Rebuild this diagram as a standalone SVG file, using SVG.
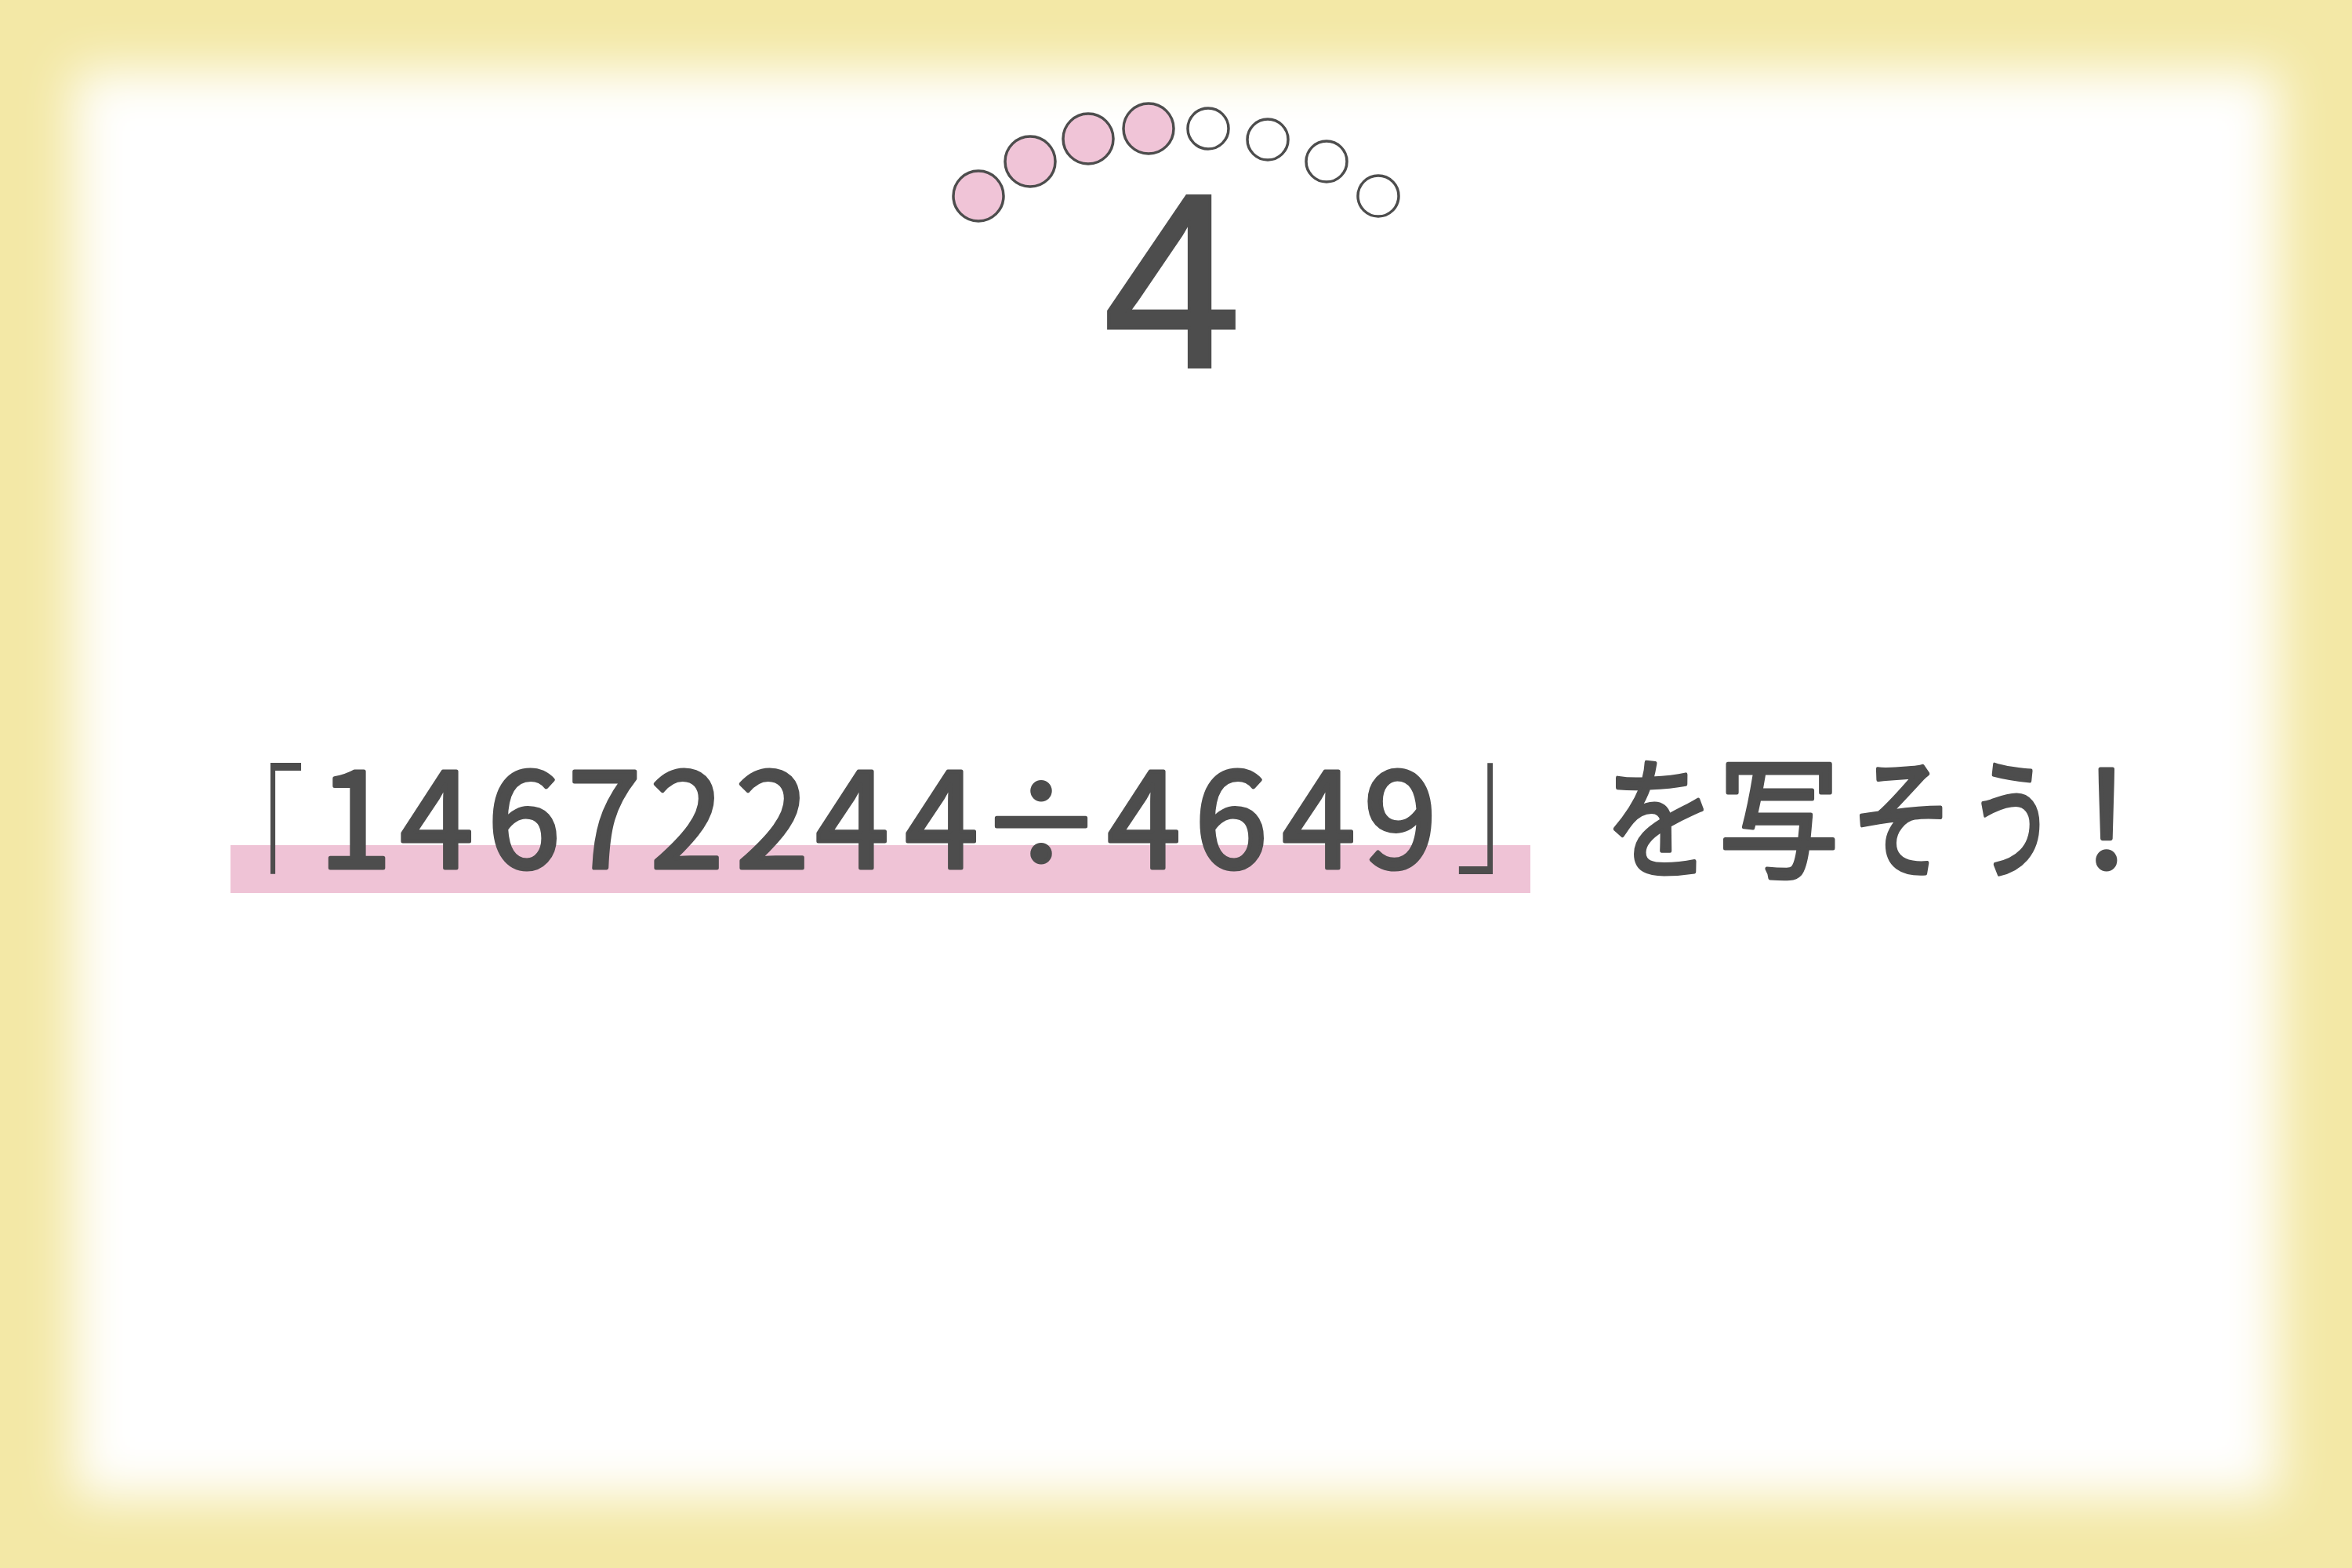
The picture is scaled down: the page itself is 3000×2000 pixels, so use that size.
<svg xmlns="http://www.w3.org/2000/svg" width="3000" height="2000" viewBox="0 0 3000 2000">
<defs>
<filter id="soft" filterUnits="userSpaceOnUse" x="0" y="0" width="3000" height="2000">
<feGaussianBlur stdDeviation="32"/>
</filter>
<style>
.dot{stroke:#4d4d4d;stroke-width:3.5}
.on{fill:#f0c4d7}
.off{fill:#ffffff}
.big{font-family:"Liberation Sans","DejaVu Sans",sans-serif;font-size:317px;fill:#4d4d4d;stroke:#4d4d4d;stroke-width:4}
.jp{font-family:"Noto Sans CJK JP","Noto Sans",sans-serif;font-size:168px;font-weight:400;fill:#4d4d4d;stroke:#4d4d4d;stroke-width:5;stroke-linejoin:round;stroke-linecap:round}
.br{font-family:"Noto Sans CJK JP","Noto Sans",sans-serif;font-size:168px;font-weight:300;fill:#4d4d4d}
</style>
</defs>
<g id="frame">
<rect x="0" y="0" width="3000" height="2000" fill="#f3e8a6"/>
<rect x="95" y="90" width="2810" height="1820" fill="#ffffff" filter="url(#soft)"/>
</g>
<g id="progress">
<circle class="dot on" cx="1248" cy="250" r="32"/>
<circle class="dot on" cx="1314" cy="206" r="32"/>
<circle class="dot on" cx="1388" cy="177" r="32"/>
<circle class="dot on" cx="1465" cy="164" r="32"/>
<circle class="dot off" cx="1541" cy="164" r="26"/>
<circle class="dot off" cx="1617" cy="178" r="26"/>
<circle class="dot off" cx="1692" cy="206" r="26"/>
<circle class="dot off" cx="1758" cy="250" r="26"/>
</g>
<g id="number">
<text class="big" x="1495" y="468" text-anchor="middle">4</text>
</g>
<g id="prompt">
<rect x="294" y="1078" width="1658" height="61" fill="#efc3d6"/>
<text class="br" x="0" y="0" text-anchor="middle" transform="translate(325,1156) scale(0.76,1.29)">「</text>
<text class="jp" y="1107" text-anchor="middle"><tspan x="453">1</tspan><tspan x="557">4</tspan><tspan x="668">6</tspan><tspan x="771">7</tspan><tspan x="876">2</tspan><tspan x="985">2</tspan><tspan x="1087">4</tspan><tspan x="1201">4</tspan><tspan x="1328" font-size="156">÷</tspan><tspan x="1459">4</tspan><tspan x="1570">6</tspan><tspan x="1682">4</tspan><tspan x="1786">9</tspan></text>
<text class="br" x="0" y="0" text-anchor="middle" transform="translate(1926,1097) scale(0.84,1.29)">」</text>
<text class="jp" x="0" y="0" text-anchor="middle" transform="translate(2117,1107) scale(0.84,1)">を</text>
<text class="jp" x="0" y="0" text-anchor="middle" transform="translate(2269,1107) scale(0.92,1)">写</text>
<text class="jp" x="0" y="0" text-anchor="middle" transform="translate(2426,1107) scale(0.78,1)">そ</text>
<text class="jp" x="0" y="0" text-anchor="middle" transform="translate(2566,1107) scale(0.66,1)">う</text>
<text class="jp" x="2687" y="1107" text-anchor="middle">!</text>
</g>
</svg>
